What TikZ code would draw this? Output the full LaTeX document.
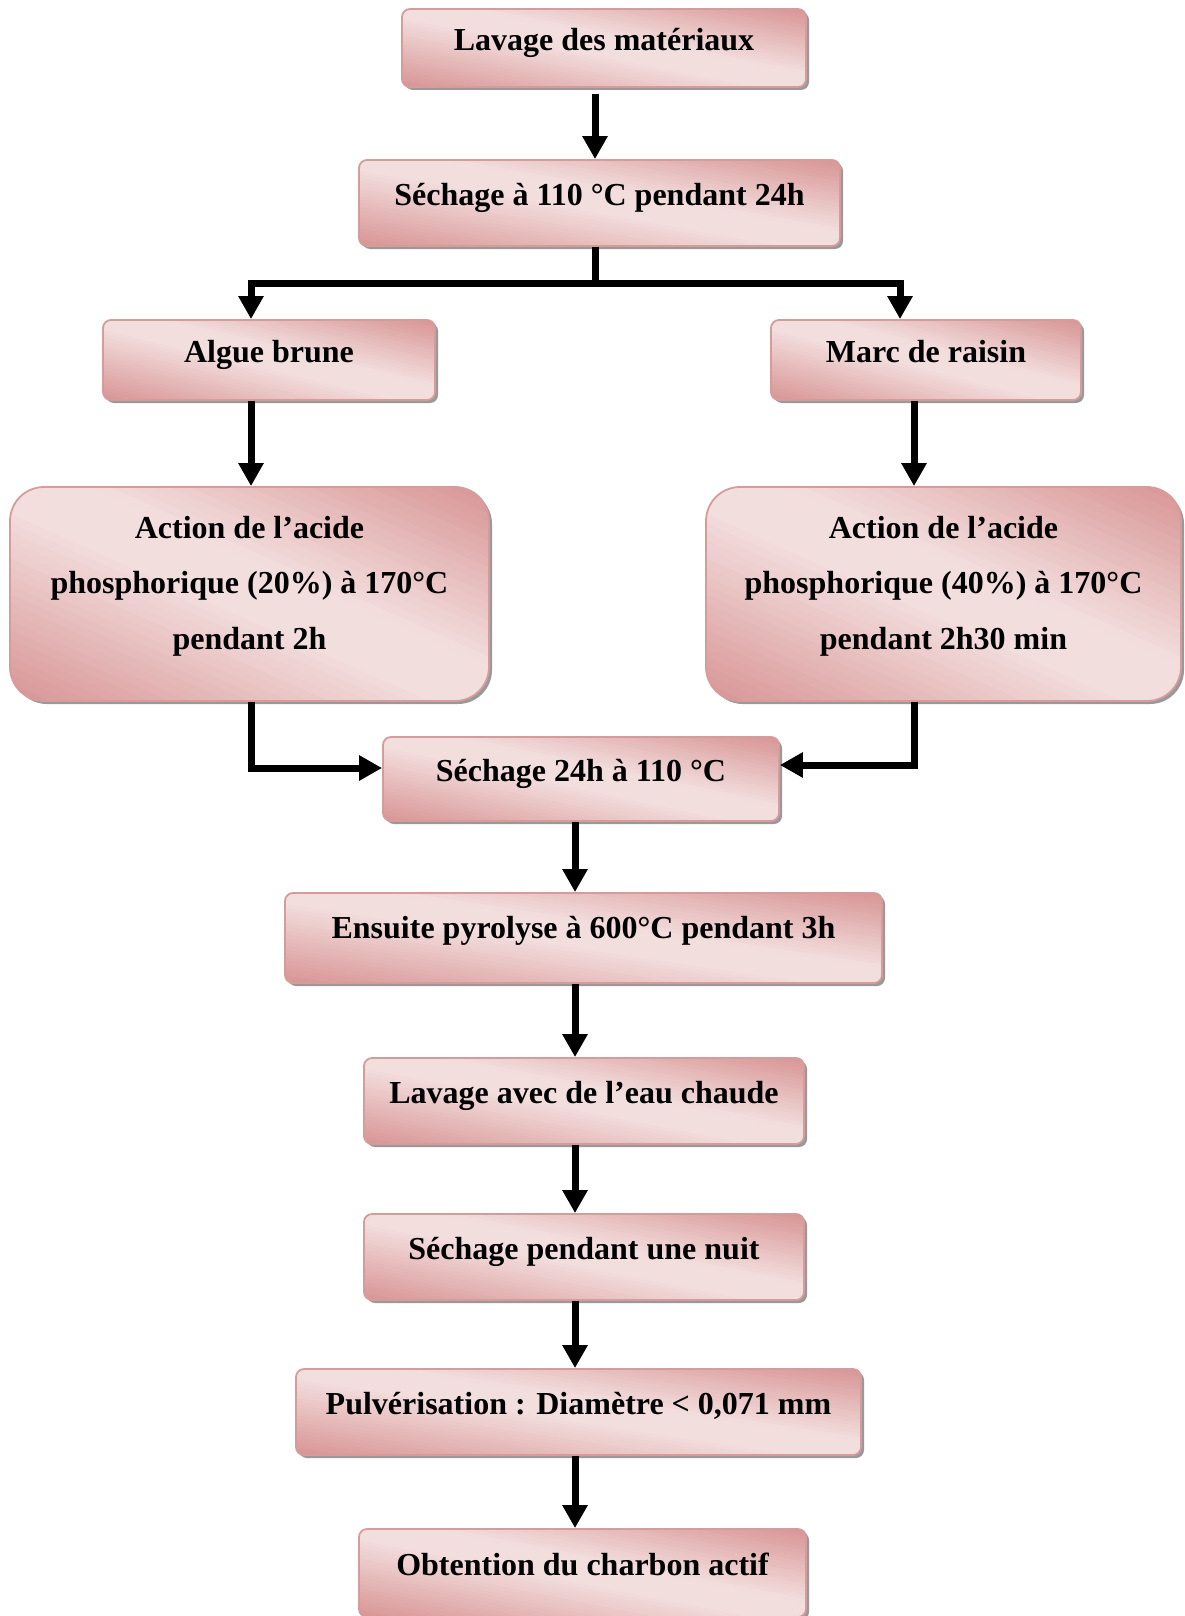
\documentclass[tikz,border=0pt]{standalone}
\usepackage{fontspec}
\setmainfont{Liberation Serif}
\usetikzlibrary{arrows.meta,shadows,calc}

\definecolor{rosefonce}{RGB}{216,148,148}
\definecolor{roseclair}{RGB}{243,222,222}
\definecolor{rosebord}{RGB}{214,156,156}

\tikzset{
	degrade/.style={path picture={
		\coordinate (bsw) at (path picture bounding box.south west);
		\coordinate (bne) at (path picture bounding box.north east);
		\coordinate (bnw) at (path picture bounding box.north west);
		\coordinate (bse) at (path picture bounding box.south east);
		\foreach \i in {0,...,47}{
			\pgfmathsetmacro{\ta}{\i/48}
			\pgfmathsetmacro{\tb}{(\i+1.3)/48}
			\pgfmathsetmacro{\mel}{100*max(0,(0.45-(\i+0.5)/48)/0.45,((\i+0.5)/48-0.58)/0.42)}
			\fill[rosefonce!\mel!roseclair] ($(bsw)!\ta!(bne)+(bnw)-(bse)$) -- ($(bsw)!\tb!(bne)+(bnw)-(bse)$) -- ($(bsw)!\tb!(bne)-(bnw)+(bse)$) -- ($(bsw)!\ta!(bne)-(bnw)+(bse)$) -- cycle;
		}
	}},
	etape/.style={draw=rosebord, fill=white, line width=0.9pt, rounded corners=4pt, degrade,
		drop shadow={shadow xshift=1.5pt, shadow yshift=-1.5pt, fill=black!40, opacity=1},
		font=\fontsize{16}{19.2}\selectfont\bfseries, inner sep=0pt},
	grande/.style={etape, rounded corners=17pt},
	fleche/.style={line width=3.5pt, -{Triangle[length=11.5pt,width=12pt]}},
	trait/.style={line width=3.5pt},
}
\newcommand{\monte}[2][2.5pt]{\raisebox{#1}[\height][\depth]{\strut#2}}

\begin{document}
\begin{tikzpicture}[x=0.5pt, y=-0.5pt]
		%%%%% START %%%%%
		\useasboundingbox (0,0) rectangle (1184,1616);
		
		\node[etape, minimum width=202pt, minimum height=39pt] (lavA) at (604,48) {\monte{Lavage des matériaux}};
		\node[etape, minimum width=240.5pt, minimum height=43pt] (secA) at (599.5,203) {\monte{Séchage à 110 °C pendant 24h}};
		
		\node[etape, minimum width=166pt, minimum height=40pt] (alg) at (269,360) {\monte{Algue brune}};
		\node[etape, minimum width=155pt, minimum height=40pt] (marc) at (926,360) {\monte{Marc de raisin}};
		
		\node[grande, minimum width=239.5pt, minimum height=107pt] (actA) at (249.5,594) {\monte[4pt]{\begin{tabular}{@{}c@{}}Action de l’acide\\[8.6pt] phosphorique (20\%) à 170°C\\[8.6pt] pendant 2h\end{tabular}}};
		\node[grande, minimum width=237.5pt, minimum height=107pt] (actB) at (943.5,594) {\monte[4pt]{\begin{tabular}{@{}c@{}}Action de l’acide\\[8.6pt] phosphorique (40\%) à 170°C\\[8.6pt] pendant 2h30 min\end{tabular}}};
		
		\node[etape, minimum width=198pt, minimum height=42pt] (secB) at (581,779) {\monte{Séchage 24h à 110 °C}};
		\node[etape, minimum width=298.5pt, minimum height=45pt] (pyro) at (583.5,938) {\monte[3.5pt]{Ensuite pyrolyse à 600°C pendant 3h}};
		\node[etape, minimum width=220pt, minimum height=43pt] (lavB) at (584,1101) {\monte{Lavage avec de l’eau chaude}};
		\node[etape, minimum width=220pt, minimum height=43pt] (secC) at (584,1257) {\monte{Séchage pendant une nuit}};
		\node[etape, minimum width=282.5pt, minimum height=43pt] (pulv) at (578.5,1412) {\monte{Pulvérisation : Diamètre < 0,071 mm}};
		\node[etape, minimum width=223.5pt, minimum height=44pt] (obt) at (582.5,1573) {\monte{Obtention du charbon actif}};
		
		% fleches
		\coordinate (fourche) at (595,283);
		\coordinate (xh) at (595,0);
		\coordinate (xg) at (251,0);
		\coordinate (xd) at (900,0);
		\coordinate (xd2) at (914,0);
		\coordinate (xc) at (575,0);
		
		\draw[fleche, shorten <=3pt] (lavA.south -| xh) -- (secA.north -| xh);
		\draw[trait] (secA.south -| fourche) -- (fourche);
		\draw[fleche] (fourche) -| (alg.north -| xg);
		\draw[fleche] (fourche) -| (marc.north -| xd);
		
		\draw[fleche] (alg.south -| xg) -- (actA.north -| xg);
		\draw[fleche] (marc.south -| xd2) -- (actB.north -| xd2);
		\draw[fleche] (actA.south -| xg) |- ([yshift=5.5pt]secB.west);
		\draw[fleche] (actB.south -| xd2) |- ([yshift=7pt]secB.east);
		
		\draw[fleche] (secB.south -| xc) -- (pyro.north -| xc);
		\draw[fleche] (pyro.south -| xc) -- (lavB.north -| xc);
		\draw[fleche] (lavB.south -| xc) -- (secC.north -| xc);
		\draw[fleche] (secC.south -| xc) -- (pulv.north -| xc);
		\draw[fleche] (pulv.south -| xc) -- (obt.north -| xc);
		
		%%%%% END %%%%%
\end{tikzpicture}
\end{document}
